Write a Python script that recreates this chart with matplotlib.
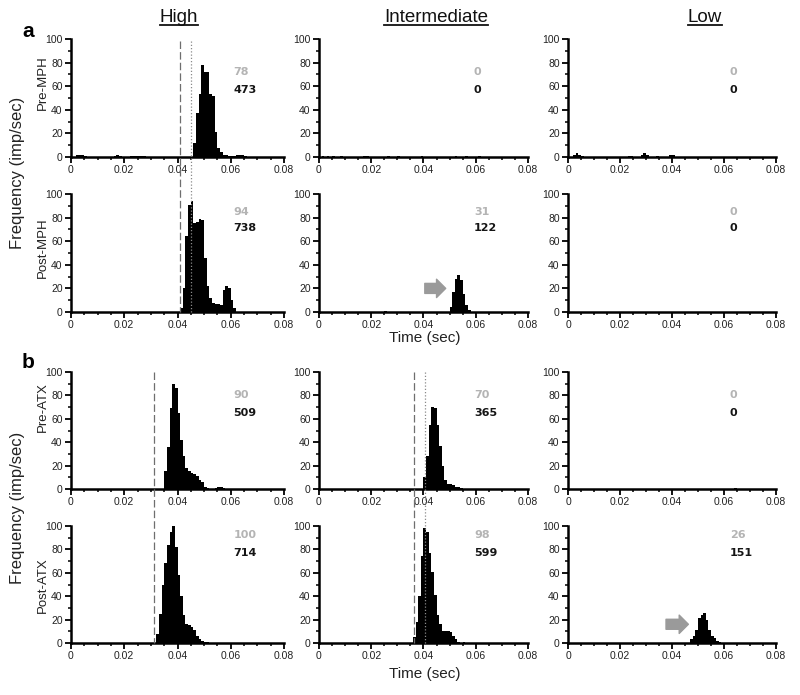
import matplotlib
matplotlib.use("Agg")
import matplotlib.pyplot as plt
from matplotlib.lines import Line2D
from matplotlib.transforms import blended_transform_factory
from matplotlib.ticker import MultipleLocator, FixedLocator

# ---------------- data (bin left edge in ms, frequency imp/sec) ----------------
col_titles = ["High", "Intermediate", "Low"]
row_labels = ["Pre-MPH", "Post-MPH", "Pre-ATX", "Post-ATX"]
xticks = [0, 0.02, 0.04, 0.06, 0.08]
xtick_labels = ["0", "0.02", "0.04", "0.06", "0.08"]
yticks = [0, 20, 40, 60, 80, 100]

# Pre-MPH
pre_mph_high_ms = [2, 3, 4, 5, 16, 17, 18, 22, 23, 24, 25, 26, 27,
                   46, 47, 48, 49, 50, 51, 52, 53, 54, 55, 56, 57, 58, 59, 60, 61, 62, 63, 64, 65]
pre_mph_high_f = [2, 2, 2, 1, 1, 2, 1, 1, 1, 1, 1, 1, 1,
                  12, 37, 53, 78, 72, 72, 53, 52, 21, 8, 4, 2, 2, 1, 1, 1, 2, 2, 2, 1]
pre_mph_int_ms = [1, 3, 5, 8, 17, 18, 26, 30, 39, 52, 56, 61]
pre_mph_int_f = [1, 1, 1, 1, 1, 1, 1, 1, 1, 1, 1, 1]
pre_mph_low_ms = [2, 3, 4, 5, 23, 24, 28, 29, 30, 34, 39, 40]
pre_mph_low_f = [2, 3, 2, 1, 1, 1, 2, 3, 2, 1, 2, 2]

# Post-MPH
post_mph_high_ms = [41, 42, 43, 44, 45, 46, 47, 48, 49, 50, 51, 52, 53, 54, 55, 56, 57, 58, 59, 60, 61]
post_mph_high_f = [3, 20, 64, 91, 94, 75, 76, 79, 78, 46, 22, 12, 8, 7, 7, 6, 19, 22, 20, 10, 3]
post_mph_int_ms = [25, 50, 51, 52, 53, 54, 55, 56, 57]
post_mph_int_f = [1, 4, 17, 28, 31, 27, 15, 6, 2]
post_mph_low_ms = []
post_mph_low_f = []

# Pre-ATX
pre_atx_high_ms = [35, 36, 37, 38, 39, 40, 41, 42, 43, 44, 45, 46, 47, 48, 49, 50, 51, 54, 55, 56, 57]
pre_atx_high_f = [15, 36, 69, 90, 86, 65, 42, 28, 18, 15, 14, 13, 11, 8, 6, 2, 1, 1, 2, 2, 1]
pre_atx_int_ms = [40, 41, 42, 43, 44, 45, 46, 47, 48, 49, 50, 51, 52, 53, 54]
pre_atx_int_f = [10, 28, 55, 70, 69, 55, 37, 20, 8, 4, 4, 3, 2, 2, 1]
pre_atx_low_ms = [64]
pre_atx_low_f = [1]

# Post-ATX
post_atx_high_ms = [32, 33, 34, 35, 36, 37, 38, 39, 40, 41, 42, 43, 44, 45, 46, 47, 48, 49, 50, 51]
post_atx_high_f = [8, 25, 50, 68, 84, 95, 100, 82, 58, 40, 24, 16, 15, 14, 11, 6, 3, 2, 1, 1]
post_atx_int_ms = [36, 37, 38, 39, 40, 41, 42, 43, 44, 45, 46, 47, 48, 49, 50, 51, 52, 53, 55]
post_atx_int_f = [5, 18, 40, 74, 98, 95, 77, 61, 41, 24, 16, 10, 10, 10, 9, 6, 3, 1, 1]
post_atx_low_ms = [47, 48, 49, 50, 51, 52, 53, 54, 55, 56, 57, 58]
post_atx_low_f = [3, 6, 11, 21, 24, 26, 20, 11, 6, 4, 2, 1]

# annotations: peak (grey) and count (black)
peak_vals = [["78", "0", "0"], ["94", "31", "0"], ["90", "70", "0"], ["100", "98", "26"]]
count_vals = [["473", "0", "0"], ["738", "122", "0"], ["509", "365", "0"], ["714", "599", "151"]]

# latency markers (sec): dashed / dotted
mph_high_dashed, mph_high_dotted = 0.041, 0.045
atx_high_dashed = 0.0313
atx_int_dashed, atx_int_dotted = 0.0364, 0.0406

# arrows (start x, end x, y)
arrow_post_mph_int = (0.0405, 0.0485, 20)
arrow_post_atx_low = (0.0377, 0.0463, 16)

data = [
    [(pre_mph_high_ms, pre_mph_high_f), (pre_mph_int_ms, pre_mph_int_f), (pre_mph_low_ms, pre_mph_low_f)],
    [(post_mph_high_ms, post_mph_high_f), (post_mph_int_ms, post_mph_int_f), (post_mph_low_ms, post_mph_low_f)],
    [(pre_atx_high_ms, pre_atx_high_f), (pre_atx_int_ms, pre_atx_int_f), (pre_atx_low_ms, pre_atx_low_f)],
    [(post_atx_high_ms, post_atx_high_f), (post_atx_int_ms, post_atx_int_f), (post_atx_low_ms, post_atx_low_f)],
]

# ---------------- layout ----------------
W, H = 800, 695
fig = plt.figure(figsize=(W / 100, H / 100), dpi=100)
plt.rcParams['font.family'] = ['Liberation Sans', 'DejaVu Sans']

col_left = [71, 319, 568]
col_w = [213, 209, 208]
row_top = [39, 194, 372, 526]
row_bot = [157, 312, 489, 643]
num_x = [0.061, 0.0593, 0.0622]
peak_y = [72, 85, 80, 92]
count_y = [57, 71, 65, 77]

axes = [[None] * 3 for _ in range(4)]
for r in range(4):
    for c in range(3):
        ax = fig.add_axes([col_left[c] / W, 1 - row_bot[r] / H, col_w[c] / W,
                           (row_bot[r] - row_top[r]) / H])
        axes[r][c] = ax
        ms, f = data[r][c]
        if len(ms):
            ax.bar([m / 1000.0 for m in ms], f, width=0.001, align='edge',
                   color='black', edgecolor='none', linewidth=0)
        ax.set_xlim(0, 0.08)
        ax.set_ylim(0, 100)
        for s in ['top', 'right']:
            ax.spines[s].set_visible(False)
        for s in ['left', 'bottom']:
            ax.spines[s].set_linewidth(1.8)
        ax.xaxis.set_major_locator(FixedLocator(xticks))
        ax.set_xticklabels(xtick_labels)
        ax.xaxis.set_minor_locator(MultipleLocator(0.005))
        ax.yaxis.set_major_locator(FixedLocator(yticks))
        ax.yaxis.set_minor_locator(MultipleLocator(10))
        ax.tick_params(which='major', length=4, width=1.3, labelsize=7.5,
                       labelcolor='#222222', pad=2)
        ax.tick_params(which='minor', length=2.5, width=1.1)
        ax.patch.set_alpha(0)
        ax.text(num_x[c], peak_y[r], peak_vals[r][c], color='#b4b4b4',
                fontsize=8, fontweight='bold', family='DejaVu Sans',
                ha='left', va='center')
        ax.text(num_x[c], count_y[r], count_vals[r][c], color='#151515',
                fontsize=8, fontweight='bold', family='DejaVu Sans',
                ha='left', va='center')


def vline(ax, x, y0px, y1px, style, color):
    tr = blended_transform_factory(ax.transData, fig.transFigure)
    ln = Line2D([x, x], [1 - y0px / H, 1 - y1px / H], transform=tr,
                linestyle=style, color=color, linewidth=0.9)
    fig.add_artist(ln)


dash = (0, (6, 2.5))
dot = (0, (1, 1.6))
vline(axes[0][0], mph_high_dashed, 41, 312, dash, '#6e6e6e')
vline(axes[0][0], mph_high_dotted, 41, 312, dot, '#8a8a8a')
vline(axes[2][0], atx_high_dashed, 372, 643, dash, '#6e6e6e')
vline(axes[2][1], atx_int_dashed, 372, 643, dash, '#6e6e6e')
vline(axes[2][1], atx_int_dotted, 372, 643, dot, '#8a8a8a')

for ax, (x0, x1, y) in [(axes[1][1], arrow_post_mph_int), (axes[3][2], arrow_post_atx_low)]:
    ax.annotate('', xy=(x1, y), xytext=(x0, y),
                arrowprops=dict(arrowstyle='simple,head_length=0.55,head_width=1.1,tail_width=0.6',
                                color='#9a9a9a', mutation_scale=12, shrinkA=0, shrinkB=0))

# column titles with underline
title_x = [179, 436, 705]
title_base = 22
titles = []
for c in range(3):
    t = fig.text(title_x[c] / W, 1 - title_base / H, col_titles[c], fontsize=13.5,
                 ha='center', va='baseline', color='#111111')
    titles.append(t)

# panel letters
fig.text(22 / W, 1 - 37 / H, "a", fontsize=15, fontweight='bold', ha='left', va='baseline')
fig.text(22 / W, 1 - 368 / H, "b", fontsize=15, fontweight='bold', ha='left', va='baseline')

# row labels
row_label_y = [83, 248, 407, 585]
for r in range(4):
    fig.text(43 / W, 1 - row_label_y[r] / H, row_labels[r], rotation=90, fontsize=9.5,
             ha='center', va='center', color='#222222')

# big y labels
for yc in [173, 508]:
    fig.text(18 / W, 1 - yc / H, "Frequency (imp/sec)", rotation=90, fontsize=12,
             ha='center', va='center', color='#222222')

# x labels
for yc in [338, 674]:
    fig.text(425 / W, 1 - yc / H, "Time (sec)", fontsize=11, ha='center', va='center',
             color='#222222')

fig.canvas.draw()
renderer = fig.canvas.get_renderer()
for t in titles:
    bb = t.get_window_extent(renderer)
    yl = 1 - (title_base + 2.5) / H
    fig.add_artist(Line2D([bb.x0 / W, bb.x1 / W], [yl, yl], transform=fig.transFigure,
                          color='#111111', linewidth=1.3))

fig.savefig("out.png", dpi=100)
